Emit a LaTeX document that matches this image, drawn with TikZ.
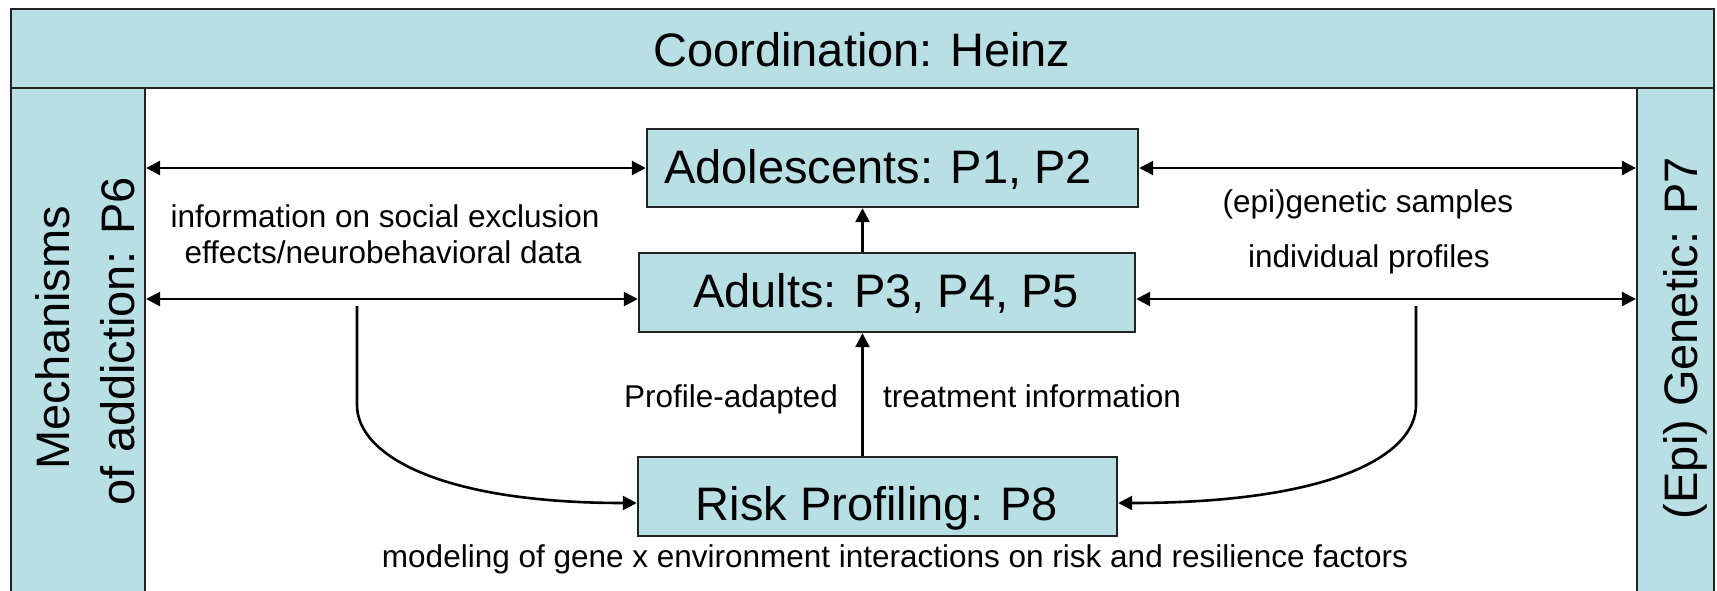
\documentclass[tikz,border=0pt]{standalone}
\usepackage{fontspec}
\setmainfont{Liberation Sans}
\usetikzlibrary{arrows.meta}
\definecolor{boxblue}{RGB}{184,223,227}
\definecolor{edge}{RGB}{35,35,35}
\begin{document}
\begin{tikzpicture}[x=1pt,y=-1pt,
  frame/.style={draw=edge, line width=2.2pt, fill=boxblue, inner sep=0pt},
  wp/.style={draw=edge, line width=2.4pt, fill=boxblue, inner sep=0pt},
  big/.style={font=\fontsize{47}{56}\selectfont, inner sep=0pt},
  small/.style={font=\fontsize{31.5}{38}\selectfont, inner sep=0pt},
  arr/.style={line width=2.6pt, draw=black, -{Triangle[length=14pt,width=14pt]}},
  darr/.style={line width=2.6pt, draw=black, {Triangle[length=14pt,width=14pt]}-{Triangle[length=14pt,width=14pt]}},
]
\useasboundingbox (0,0) rectangle (1717,590);
\clip (0,0) rectangle (1717,590);
% frame
\node[frame, minimum width=134pt, minimum height=522pt] (leftcol) at (78,349) {};
\node[frame, minimum width=77pt, minimum height=522pt] (rightcol) at (1675.5,349) {};
\node[frame, minimum width=1703pt, minimum height=79pt] (coordband) at (862.5,48.5) {};
% work packages
\node[wp, minimum width=491pt, minimum height=78pt] (ado) at (892.5,168) {};
\node[wp, minimum width=496pt, minimum height=79pt] (adu) at (887,292.5) {};
\node[wp, minimum width=479pt, minimum height=79pt] (risk) at (877.5,496.5) {};
% big texts
\node[big, anchor=base] (tcoord) at (862,66) {Coordination: Heinz};
\node[big, anchor=base] (tado) at (878,183) {Adolescents: P1, P2};
\node[big, anchor=base] (tadu) at (886,307) {Adults: P3, P4, P5};
\node[big, anchor=base] (trisk) at (877,520) {Risk Profiling: P8};
\node[big, anchor=base, rotate=90] (tl1) at (69,338) {Mechanisms};
\node[big, anchor=base, rotate=90] (tl2) at (134,341) {of addiction: P6};
\node[big, anchor=base, rotate=90] (tr) at (1697,338) {(Epi) Genetic: P7};
% small texts
\node[small, anchor=base] (s1) at (385,227) {information on social exclusion};
\node[small, anchor=base] (s2) at (383,263) {effects/neurobehavioral data};
\node[small, anchor=base] (s3) at (1368,212) {(epi)genetic samples};
\node[small, anchor=base] (s4) at (1369,267) {individual profiles};
\node[small, anchor=base east] (s5) at (838,407) {Profile-adapted};
\node[small, anchor=base west] (s6) at (883,407) {treatment information};
\node[small, anchor=base] (s7) at (895,567) {modeling of gene x environment interactions on risk and resilience factors};
% connectors
\coordinate (vx) at (862.5,0);
\coordinate (aduL) at ([yshift=-6.5pt]adu.west);
\coordinate (aduR) at ([yshift=-6.5pt]adu.east);
\coordinate (riskL) at ([yshift=-6.5pt]risk.west);
\coordinate (riskR) at ([yshift=-6.5pt]risk.east);
\coordinate (lc) at (357,306);
\coordinate (lcb) at (357,405);
\coordinate (rc) at (1416,306);
\coordinate (rcb) at (1416,405);
\draw[darr] (leftcol.east |- ado.west) -- (ado.west);
\draw[darr] (ado.east) -- (ado.east -| rightcol.west);
\draw[darr] (aduL -| leftcol.east) -- (aduL);
\draw[darr] (aduR) -- (aduR -| rightcol.west);
\draw[arr] (adu.north -| vx) -- (ado.south -| vx);
\draw[arr] (risk.north -| vx) -- (adu.south -| vx);
\draw[arr] (lc) -- (lcb) .. controls (357,455) and (440,503) .. (riskL);
\draw[arr] (rc) -- (rcb) .. controls (1416,455) and (1333,503) .. (riskR);
\end{tikzpicture}
\end{document}
